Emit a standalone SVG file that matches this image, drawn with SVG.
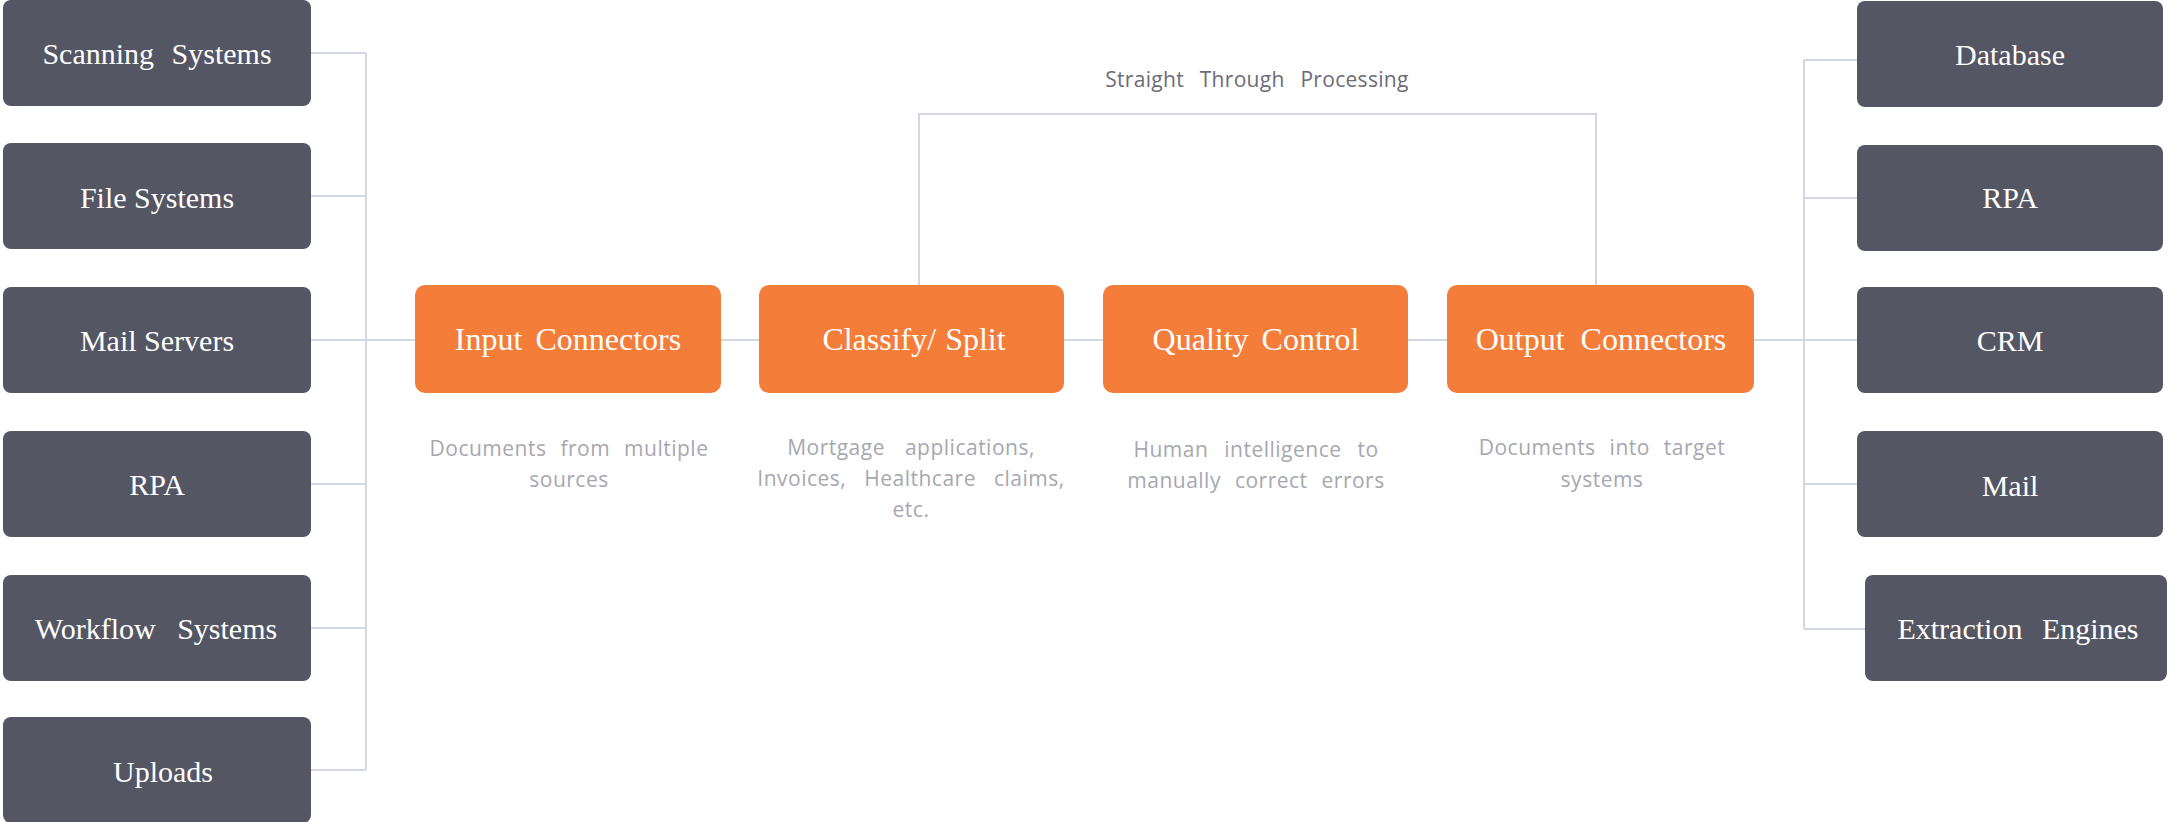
<svg xmlns="http://www.w3.org/2000/svg" width="2167" height="822" viewBox="0 0 2167 822">
<style>
.dark{fill:#555664;}
.org{fill:#F47D3A;}
.lbl{font-family:"Liberation Serif","DejaVu Serif",serif;fill:#ffffff;text-anchor:middle;}
.dl{font-size:30px;}
.ol{font-size:32px;}
.desc{font-family:"Open Sans","Liberation Sans",sans-serif;font-size:21px;fill:#a7a7af;text-anchor:middle;letter-spacing:0.5px;}
.stp{font-family:"Open Sans","Liberation Sans",sans-serif;font-size:21px;fill:#6c6c77;text-anchor:middle;letter-spacing:0.3px;word-spacing:10px;}
.con{fill:none;stroke:#d3d7e3;stroke-width:2;}
</style>
<g id="connectors" class="con">
<path d="M311 53H366M311 196H366M311 484H366M311 628H366M311 770H366M366 53V770"/>
<path d="M311 340H415"/>
<path d="M721 340H759M1064 340H1103M1408 340H1447"/>
<path d="M1754 340H1857"/>
<path d="M1804 60H1857M1804 198H1857M1804 484H1857M1804 629H1865M1804 60V629"/>
<path d="M919 285V114H1596V285"/>
</g>
<g id="scanning-systems"><rect class="dark" x="3" y="0" width="308" height="106" rx="8"/><text class="lbl dl" x="157" y="64" word-spacing="10">Scanning Systems</text></g>
<g id="file-systems"><rect class="dark" x="3" y="143" width="308" height="106" rx="8"/><text class="lbl dl" x="157" y="208">File Systems</text></g>
<g id="mail-servers"><rect class="dark" x="3" y="287" width="308" height="106" rx="8"/><text class="lbl dl" x="157" y="351">Mail Servers</text></g>
<g id="rpa-in"><rect class="dark" x="3" y="431" width="308" height="106" rx="8"/><text class="lbl dl" x="157" y="495">RPA</text></g>
<g id="workflow-systems"><rect class="dark" x="3" y="575" width="308" height="106" rx="8"/><text class="lbl dl" x="156" y="639" word-spacing="14">Workflow Systems</text></g>
<g id="uploads"><rect class="dark" x="3" y="717" width="308" height="106" rx="8"/><text class="lbl dl" x="163" y="782">Uploads</text></g>
<g id="input-connectors"><rect class="org" x="415" y="285" width="306" height="108" rx="10"/><text class="lbl ol" x="568" y="350" word-spacing="5">Input Connectors</text></g>
<g id="classify-split"><rect class="org" x="759" y="285" width="305" height="108" rx="10"/><text class="lbl ol" x="914" y="350" word-spacing="1">Classify/ Split</text></g>
<g id="quality-control"><rect class="org" x="1103" y="285" width="305" height="108" rx="10"/><text class="lbl ol" x="1256" y="350" word-spacing="5">Quality Control</text></g>
<g id="output-connectors"><rect class="org" x="1447" y="285" width="307" height="108" rx="10"/><text class="lbl ol" x="1601" y="350" word-spacing="8">Output Connectors</text></g>
<g id="database"><rect class="dark" x="1857" y="1" width="306" height="106" rx="8"/><text class="lbl dl" x="2010" y="65">Database</text></g>
<g id="rpa-out"><rect class="dark" x="1857" y="145" width="306" height="106" rx="8"/><text class="lbl dl" x="2010" y="208">RPA</text></g>
<g id="crm"><rect class="dark" x="1857" y="287" width="306" height="106" rx="8"/><text class="lbl dl" x="2010" y="351">CRM</text></g>
<g id="mail"><rect class="dark" x="1857" y="431" width="306" height="106" rx="8"/><text class="lbl dl" x="2010" y="496">Mail</text></g>
<g id="extraction-engines"><rect class="dark" x="1865" y="575" width="302" height="106" rx="8"/><text class="lbl dl" x="2018" y="639" word-spacing="12">Extraction Engines</text></g>
<g id="labels">
<text class="stp" x="1257" y="87">Straight Through Processing</text>
<text class="desc" x="569" y="456" word-spacing="8">Documents from multiple</text>
<text class="desc" x="569" y="487">sources</text>
<text class="desc" x="911" y="455" word-spacing="14">Mortgage applications,</text>
<text class="desc" x="911" y="486" word-spacing="12">Invoices, Healthcare claims,</text>
<text class="desc" x="911" y="517">etc.</text>
<text class="desc" x="1256" y="457" word-spacing="10">Human intelligence to</text>
<text class="desc" x="1256" y="488" word-spacing="8">manually correct errors</text>
<text class="desc" x="1602" y="455" word-spacing="8">Documents into target</text>
<text class="desc" x="1602" y="487">systems</text>
</g>
</svg>
